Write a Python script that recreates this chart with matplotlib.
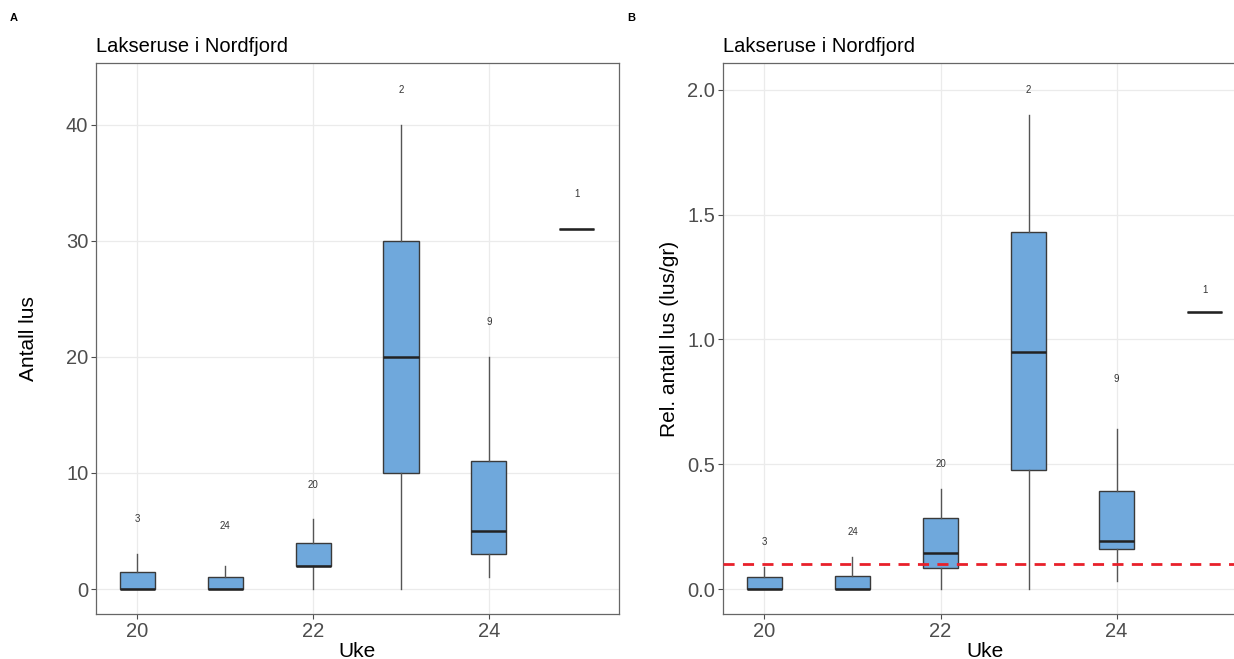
import matplotlib
matplotlib.use("Agg")
import matplotlib.pyplot as plt

plt.rcParams['font.family'] = ['Liberation Sans', 'DejaVu Sans']

weeks = [20, 21, 22, 23, 24, 25]
counts = ["3", "24", "20", "2", "9", "1"]

# Panel A: Antall lus
a_wlo = [0, 0, 0, 0, 1, 31]
a_q1 = [0, 0, 2, 10, 3, 31]
a_med = [0, 0, 2, 20, 5, 31]
a_q3 = [1.5, 1, 4, 30, 11, 31]
a_whi = [3, 2, 6, 40, 20, 31]
a_lab_y = [6, 5.4, 9, 43, 23, 34]

# Panel B: Rel. antall lus (lus/gr)
b_wlo = [0, 0, 0, 0, 0.033, 1.11]
b_q1 = [0, 0, 0.084, 0.477, 0.16, 1.11]
b_med = [0, 0, 0.143, 0.95, 0.194, 1.11]
b_q3 = [0.047, 0.052, 0.286, 1.43, 0.394, 1.11]
b_whi = [0.09, 0.13, 0.40, 1.90, 0.64, 1.11]
b_lab_y = [0.19, 0.23, 0.50, 2.0, 0.84, 1.2]
threshold = 0.1

fill = "#6FA8DC"
edge = "#3A3A3A"
grey = "#4D4D4D"

fig = plt.figure(figsize=(12.34, 6.59), dpi=100)
axA = fig.add_axes([96/1234, 1-614/659, (619-96)/1234, (614-63)/659])
# right panel is cut by the figure edge in the reference
axB = fig.add_axes([723/1234, 1-614/659, 524/1234, (614-63)/659])


def draw(ax, wlo, q1, med, q3, whi, laby, ylim, yticks, yticklabels, ylabel, lpad):
    stats = []
    for i in range(len(weeks)):
        stats.append(dict(whislo=wlo[i], q1=q1[i], med=med[i], q3=q3[i],
                          whishi=whi[i], fliers=[]))
    ax.bxp(stats, positions=weeks, widths=0.4, patch_artist=True,
           showcaps=False, manage_ticks=False,
           boxprops=dict(facecolor=fill, edgecolor=edge, linewidth=1.0),
           medianprops=dict(color="#222222", linewidth=1.8),
           whiskerprops=dict(color="#555555", linewidth=1.0))
    for x, y, t in zip(weeks, laby, counts):
        ax.text(x, y, t, ha="center", va="center", fontsize=7, color="#333333")
    ax.set_xlim(19.53, 25.48)
    ax.set_ylim(*ylim)
    ax.set_xticks([20, 22, 24])
    ax.set_xticklabels(["20", "22", "24"])
    ax.set_yticks(yticks)
    ax.set_yticklabels(yticklabels)
    ax.tick_params(colors=grey, labelsize=14.5, length=3.5, width=0.8, pad=2)
    ax.grid(True, color="#EBEBEB", linewidth=0.9)
    ax.set_axisbelow(True)
    for s in ax.spines.values():
        s.set_color("#666666")
        s.set_linewidth(0.9)
    ax.set_xlabel("Uke", fontsize=15, labelpad=1)
    ax.set_ylabel(ylabel, fontsize=15, labelpad=lpad)
    ax.set_title("Lakseruse i Nordfjord", fontsize=14.5, loc="left", pad=8)


draw(axA, a_wlo, a_q1, a_med, a_q3, a_whi, a_lab_y, (-2.15, 45.3),
     [0, 10, 20, 30, 40], ["0", "10", "20", "30", "40"], "Antall lus", 20)
draw(axB, b_wlo, b_q1, b_med, b_q3, b_whi, b_lab_y, (-0.1, 2.108),
     [0, 0.5, 1.0, 1.5, 2.0], ["0.0", "0.5", "1.0", "1.5", "2.0"],
     "Rel. antall lus (lus/gr)", 6)
axB.axhline(threshold, color="#E8202A", linestyle=(0, (4, 3)), linewidth=2, zorder=5)

fig.text(10/1234, 1-18/659, "A", fontsize=8, fontweight="bold", va="center")
fig.text(627/1234, 1-18/659, "B", fontsize=8, fontweight="bold", va="center")

fig.savefig("out.png", dpi=100)
